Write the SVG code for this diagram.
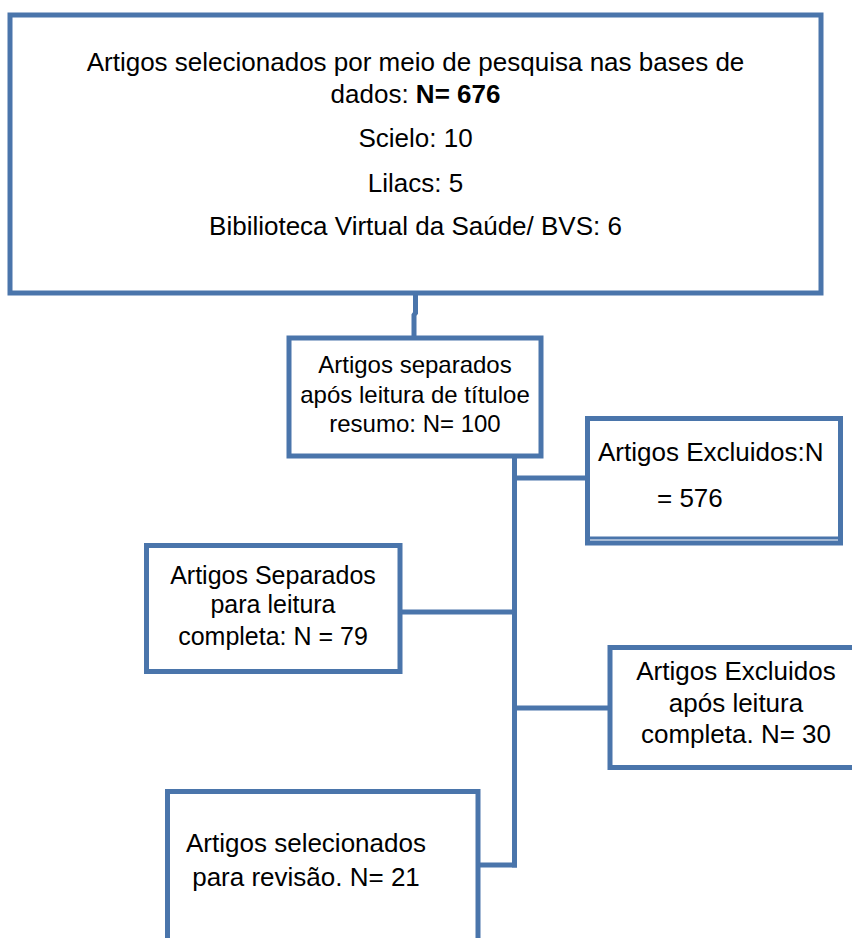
<svg xmlns="http://www.w3.org/2000/svg" width="852" height="938" viewBox="0 0 852 938">
<style>
.box{fill:#fff;stroke:#4A75AB;stroke-width:5}
.con{fill:none;stroke:#4A75AB;stroke-width:5}
text{font-family:"Liberation Sans",Arial,sans-serif;fill:#000}
.c{text-anchor:middle}
</style>
<rect width="852" height="938" fill="#fff"/>
<g id="connectors">
<path class="con" d="M415.5 293 V313 L414 315 V338"/>
<path class="con" d="M514.5 456 V867.5"/>
<path class="con" d="M514.5 478 H588"/>
<path class="con" d="M400 612 H514.5"/>
<path class="con" d="M514.5 708 H610"/>
<path class="con" d="M478 865 H517"/>
</g>
<g id="n1">
<rect class="box" x="10" y="15" width="811" height="278"/>
<text class="c" x="415.5" y="71" font-size="26">Artigos selecionados por meio de pesquisa nas bases de</text>
<text class="c" x="415.5" y="103" font-size="26">dados: <tspan font-weight="bold">N= 676</tspan></text>
<text class="c" x="415.5" y="147" font-size="26">Scielo: 10</text>
<text class="c" x="415.5" y="192" font-size="26">Lilacs: 5</text>
<text class="c" x="415.5" y="235" font-size="26">Bibilioteca Virtual da Saúde/ BVS: 6</text>
</g>
<g id="n2">
<rect class="box" x="289" y="338" width="252" height="118"/>
<text class="c" x="415" y="373" font-size="24">Artigos separados</text>
<text class="c" x="415" y="403" font-size="24">após leitura de títuloe</text>
<text class="c" x="415" y="432" font-size="24">resumo: N= 100</text>
</g>
<g id="n3">
<rect class="box" x="587.5" y="418.5" width="253" height="124.5"/>
<line x1="590" y1="538" x2="838" y2="538" stroke="#4A75AB" stroke-width="3"/>
<text x="598" y="461" font-size="26">Artigos Excluidos:N</text>
<text x="657" y="507" font-size="26">= 576</text>
</g>
<g id="n4">
<rect class="box" x="146.5" y="545.5" width="253.5" height="126"/>
<text class="c" x="273" y="584" font-size="25">Artigos Separados</text>
<text class="c" x="273" y="613" font-size="25">para leitura</text>
<text class="c" x="273" y="645" font-size="25">completa: N = 79</text>
</g>
<g id="n5">
<rect class="box" x="610" y="647.5" width="270" height="120"/>
<text class="c" x="736" y="680" font-size="26">Artigos Excluidos</text>
<text class="c" x="736" y="712" font-size="26">após leitura</text>
<text class="c" x="736" y="743" font-size="26">completa. N= 30</text>
</g>
<g id="n6">
<rect class="box" x="167.5" y="791.5" width="310.5" height="170"/>
<text class="c" x="306" y="852" font-size="26">Artigos selecionados</text>
<text class="c" x="306" y="886" font-size="26">para revisão. N= 21</text>
</g>
</svg>
